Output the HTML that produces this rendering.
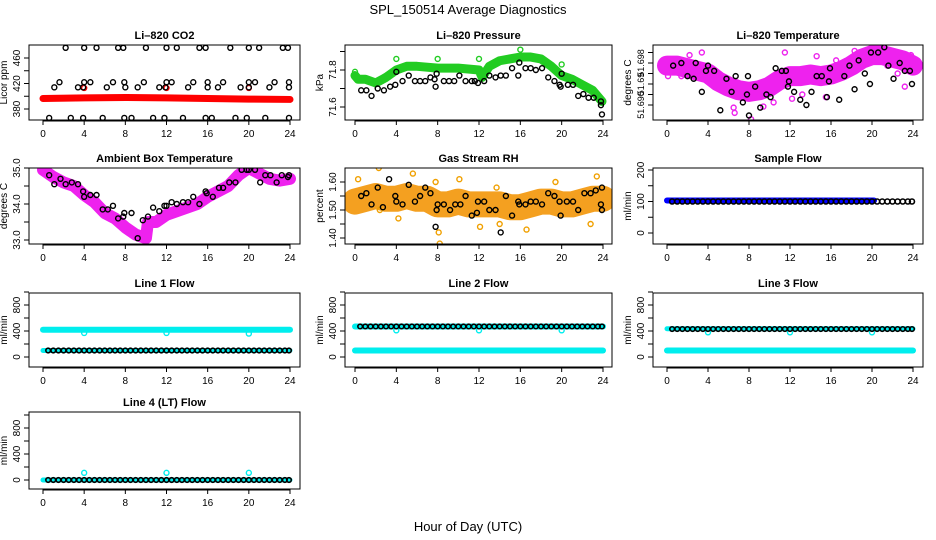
<!DOCTYPE html>
<html><head><meta charset="utf-8"><style>
body{margin:0;background:#fff;}
svg{display:block;font-family:"Liberation Sans",sans-serif;}
</style></head><body>
<svg id="c" width="936" height="540" viewBox="0 0 936 540">
<text x="468" y="14" text-anchor="middle" font-size="13">SPL_150514  Average Diagnostics</text>
<text x="468" y="531" text-anchor="middle" font-size="13">Hour of Day (UTC)</text>
</svg>
<script>
// ---------- data ----------
const xTicks = [0,4,8,12,16,20,24];
// CO2
const co2BandT = [0,4,8,12,16,20,24];
const co2BandV = [396.5,397.5,398,397.5,396.5,395.5,395];
const co2HiT = [2.2,4,5.2,7.3,7.8,10,12,13,15.2,15.8,18.2,20,21,23.3,23.8];
const co2MidT = [1.1,3.4,3.9,6.2,8,9.2,11.3,11.9,14.1,16,17,19.2,20,22,23.9];
const co2Mid2T = [1.6,4,4.6,6.8,7.9,9.8,12,12.5,14.6,16,17.5,20,20.6,22.5,23.9];
const co2LoT = [0.6,2.7,3.9,5.8,7.9,8.6,10.7,11.8,13.6,15.8,16.4,18.7,19.8,21.6,23.9];
const co2HiV = 476, co2MidV = 414, co2Mid2V = 422, co2LoV = 366;
const co2RedOutT = [4,12,20];
const co2RedOutV = [413,413,413];
// Pressure
const presBandT = [0,0.3,1,2,3,4,5,6,8,10,12,12.3,13,14,16,17,18,19,20,21,22,23,23.9];
const presBandV = [71.77,71.75,71.75,71.73,71.76,71.80,71.82,71.82,71.81,71.81,71.80,71.76,71.82,71.85,71.87,71.87,71.86,71.82,71.77,71.75,71.72,71.69,71.63];
const presBlackT = [0.6,1.1,1.6,2.2,2.8,3.4,3.9,4,4.6,5.2,5.8,6.3,6.8,7.3,7.7,7.8,7.9,8.6,9.1,9.6,10.1,10.7,11.3,11.6,11.9,12.5,13,13.6,14.1,14.6,15.2,15.8,15.9,16.5,17,17.5,18.1,18.7,19.3,19.8,19.9,20,20.6,21.1,21.6,22.1,22.6,23.1,23.8,23.8,23.9];
const presBlackV = [71.69,71.69,71.66,71.70,71.69,71.71,71.72,71.79,71.74,71.77,71.74,71.74,71.74,71.76,71.75,71.71,71.78,71.74,71.74,71.74,71.77,71.74,71.74,71.74,71.73,71.74,71.77,71.76,71.77,71.77,71.81,71.77,71.84,71.81,71.81,71.80,71.81,71.76,71.74,71.72,71.71,71.78,71.72,71.72,71.66,71.67,71.65,71.65,71.63,71.61,71.56];
const presOutT = [0,4,8,12,16,20];
const presOutV = [71.79,71.86,71.86,71.86,71.91,71.83];
// Li-820 temperature
const tempBandT = [0,1,2,3,4,5,6,7,8,9,10,11,12,13,14,15,16,17,18,19,20,21,22,23,24];
const tempBandV = [51.6975,51.6975,51.697,51.6965,51.696,51.6945,51.6935,51.6928,51.6925,51.6928,51.6935,51.6948,51.6955,51.6955,51.6958,51.6955,51.6958,51.6965,51.6975,51.6988,51.6995,51.6995,51.699,51.6985,51.6975];
const tempBlackT = [0.6,1.4,2,2.6,2.8,3.4,3.8,4,4.6,5.2,5.8,6.3,6.7,7.4,7.8,7.9,8,8.6,9.1,9.7,10.1,10.6,11.2,11.6,11.8,11.9,12.4,13,13.6,14.1,14.6,15.1,15.6,15.8,15.9,16.8,17.3,17.8,18.3,18.7,19.3,19.8,19.9,20.6,21.2,21.6,22.1,22.7,23.2,23.7,23.9];
const tempBlackV = [51.6975,51.698,51.6955,51.695,51.698,51.6925,51.6965,51.6975,51.6965,51.689,51.695,51.6925,51.6955,51.6905,51.692,51.6955,51.688,51.6935,51.6895,51.692,51.6915,51.697,51.6965,51.6965,51.6935,51.6945,51.6925,51.691,51.690,51.6925,51.6955,51.6955,51.6915,51.6945,51.697,51.691,51.6955,51.6975,51.693,51.6985,51.696,51.694,51.700,51.700,51.701,51.6975,51.695,51.698,51.6965,51.6965,51.694];
const tempMagOutT = [0.1,1.4,2.2,3.4,4.6,6.6,6.5,8.2,9.4,10.4,11.5,12.2,13.2,14.6,15.5,16.5,18.3,19.6,20.2,21.5,22.5,23.2,23.8];
const tempMagOutV = [51.6955,51.6955,51.6995,51.7,51.6935,51.6885,51.6895,51.6873,51.6897,51.6905,51.7,51.6912,51.692,51.6993,51.6915,51.6985,51.7003,51.6990,51.6985,51.6975,51.6960,51.6935,51.6995];
// Ambient box temperature
const ambBandT = [0,1,2,3,4,5,6,7,8,9,10,10.2,11,12,13,14,15,16,17,18,19,20,21,22,23,24];
const ambBandV = [34.95,34.75,34.6,34.5,34.25,34.05,33.75,33.6,33.35,33.15,33.05,33.5,33.5,33.7,33.8,33.9,34.0,34.2,34.35,34.5,34.8,35.0,34.85,34.7,34.65,34.7];
const ambBlackT = [0.6,1.1,1.7,2.2,2.8,3.4,3.9,4,4.6,5.2,5.8,6.3,6.8,7.3,7.8,7.9,8.6,9.2,9.7,10.2,10.7,11.3,11.8,12,12.5,13,13.6,14.1,14.6,15.2,15.8,15.9,16.5,17.1,17.5,18.1,18.7,19.3,19.8,20,20.6,21.1,21.6,22.1,22.7,23.2,23.8,23.9];
const ambBlackV = [34.8,34.55,34.7,34.55,34.6,34.55,34.35,34.2,34.25,34.25,33.85,33.85,33.95,33.6,33.65,33.75,33.75,33.05,33.55,33.65,33.9,33.8,33.95,33.95,34.05,34.0,34.05,34.05,34.2,34.0,34.35,34.3,34.2,34.45,34.45,34.6,34.6,34.95,34.95,34.95,34.95,34.6,34.8,34.8,34.6,34.8,34.75,34.8];
// Gas stream RH
const rhBandT = [0,1,2,3,4,5,6,7,8,9,10,11,12,13,14,15,16,17,18,19,20,21,22,23,24];
const rhBandV = [1.53,1.54,1.55,1.54,1.54,1.55,1.54,1.54,1.52,1.52,1.53,1.52,1.52,1.52,1.52,1.51,1.51,1.52,1.53,1.53,1.52,1.52,1.53,1.54,1.54];
const rhBlackT = [0.6,1.1,1.6,2.2,2.7,3.3,3.9,4,4.6,5.2,5.8,6.3,6.8,7.3,7.8,7.9,8,8.6,9.2,9.7,10.2,10.7,11.3,11.8,11.9,12.5,13,13.6,14.1,14.6,15.2,15.8,15.9,16.5,17,17.5,18.1,18.7,19.3,19.8,19.9,20.5,21.1,21.6,22.2,22.8,23.3,23.8,23.9,23.9];
const rhBlackV = [1.55,1.56,1.52,1.58,1.51,1.61,1.55,1.53,1.52,1.59,1.53,1.55,1.58,1.56,1.44,1.50,1.52,1.52,1.50,1.52,1.52,1.55,1.48,1.49,1.53,1.53,1.50,1.50,1.42,1.55,1.48,1.53,1.52,1.52,1.53,1.53,1.52,1.56,1.55,1.53,1.48,1.53,1.53,1.50,1.56,1.56,1.57,1.52,1.50,1.58];
const rhOutT = [0.3,2.3,5.6,7.8,8.1,8.2,10.1,12.1,13.7,16.6,22.8,23.4,2.4,4.2,14.0,19.4];
const rhOutV = [1.61,1.65,1.63,1.60,1.42,1.38,1.61,1.44,1.58,1.43,1.45,1.62,1.50,1.47,1.45,1.60];
// Flows
const flowT = [0.5,1,1.5,2,2.5,3,3.5,4,4.5,5,5.5,6,6.5,7,7.5,8,8.5,9,9.5,10,10.5,11,11.5,12,12.5,13,13.5,14,14.5,15,15.5,16,16.5,17,17.5,18,18.5,19,19.5,20,20.5,21,21.5,22,22.5,23,23.5,23.9];
const sampleBlue = {t:[0,20.2], v:[103,103]};
const sampleBlack = 100;
const line1Cyan = 420, line1Low = 100;
const line2Cyan = 470, line2Black = 470, line2Low = 100;
const line3Cyan = 435, line3Black = 430, line3Low = 100;
const line4Cyan = 0, line4Black = 0;
const cyanOutT = [4,12,20];
const line1OutV = [370,370,360];
const line2OutV = [410,410,410];
const line3OutV = [380,380,380];
const line4OutV = [110,110,110];

// ---------- drawing ----------
const svg = document.getElementById('c');
const NS = 'http://www.w3.org/2000/svg';
function mk(tag, attrs, parent){const e=document.createElementNS(NS,tag);for(const k in attrs)e.setAttribute(k,attrs[k]);(parent||svg).appendChild(e);return e;}
const cols = [{x0:29,x1:300,a:43,b:290},{x0:345,x1:612,a:355,b:603},{x0:653,x1:923,a:667,b:913}];
const rows = [{y0:45,y1:120},{y0:168,y1:244},{y0:293,y1:367},{y0:412,y1:489}];

function panel(name, title, ylab, c, r, yRef, ticks, labels, lfs){
  const C=cols[c], R=rows[r];
  const g = mk('g',{});
  
  
  const sx = t => C.a + (C.b-C.a)*t/24;
  const sy = v => yRef[1] + (v-yRef[0])*(yRef[3]-yRef[1])/(yRef[2]-yRef[0]);
  const t = mk('text',{x:(C.x0+C.x1)/2,y:R.y0-6,'text-anchor':'middle','font-size':11,'font-weight':'bold'},g);
  t.textContent = title;
  
  
  const plot = mk('g',{},g);
  const clip = mk('clipPath',{id:'cl'+name},g);
  mk('rect',{x:C.x0,y:R.y0,width:C.x1-C.x0,height:R.y1-R.y0},clip);
  plot.setAttribute('clip-path','url(#cl'+name+')');
  const box = mk('rect',{x:C.x0,y:R.y0,width:C.x1-C.x0,height:R.y1-R.y0,fill:'none',stroke:'#000','stroke-width':1},g);
  
  
  const xa = mk('g',{},g);
  
  
  mk('line',{x1:sx(0),x2:sx(24),y1:R.y1+1,y2:R.y1+1,stroke:'#000'},xa);
  xTicks.forEach(v=>{
    mk('line',{x1:sx(v),x2:sx(v),y1:R.y1,y2:R.y1+5,stroke:'#000'},xa);
    const tx = mk('text',{x:sx(v),y:R.y1+17,'text-anchor':'middle','font-size':10},xa);
    tx.textContent = v;
  });
  const ya = mk('g',{},g);
  
  
  ticks.forEach((v,i)=>{
    const y = sy(v);
    mk('line',{x1:C.x0-5,x2:C.x0,y1:y,y2:y,stroke:'#000'},ya);
    if(labels[i]!==''){
      const tx = mk('text',{x:C.x0-9,y:y,'text-anchor':'middle','font-size':lfs||10,transform:`rotate(-90 ${C.x0-9} ${y})`},ya);
      tx.textContent = labels[i];
    }
  });
  const yl = mk('text',{x:C.x0-22,y:(R.y0+R.y1)/2,'text-anchor':'middle','font-size':10,transform:`rotate(-90 ${C.x0-22} ${(R.y0+R.y1)/2})`},g);
  yl.textContent = ylab;
  
  
  return {plot,sx,sy};
}
function band(P, T, V, color, w, name){
  const pl = mk('polyline',{points:T.map((t,i)=>P.sx(t)+','+P.sy(V[i])).join(' '),fill:'none',stroke:color,'stroke-width':w,'stroke-linejoin':'round','stroke-linecap':'round'},P.plot);
  
  
}
function pts(P, T, V, color, name, r, sw){
  const g = mk('g',{},P.plot);
  
  
  T.forEach((t,i)=>{
    const v = Array.isArray(V)?V[i]:V;
    mk('circle',{cx:P.sx(t),cy:P.sy(v),r:r||2.5,fill:'none',stroke:color,'stroke-width':sw||1.4},g);
  });
}

// P1
let P = panel('co2-panel','Li\u2013820 CO2','Licor ppm',0,0,[380,109,460,58],[380,400,420,440,460],['380','','420','','460']);
band(P,co2BandT,co2BandV,'#ff0000',7,'co2-red-band');
pts(P,co2RedOutT,co2RedOutV,'#ff0000','co2-red-outliers');
pts(P,co2HiT,co2HiV,'#000','co2-black-high');
pts(P,co2MidT,co2MidV,'#000','co2-black-mid');
pts(P,co2Mid2T,co2Mid2V,'#000','co2-black-mid2');
pts(P,co2LoT,co2LoV,'#000','co2-black-low');
// P2
P = panel('pressure-panel','Li\u2013820 Pressure','kPa',1,0,[71.8,70,71.6,107],[71.6,71.7,71.8,71.9],['71.6','','71.8','']);
band(P,presBandT,presBandV,'#22cc22',9,'pressure-green-band');
pts(P,presOutT,presOutV,'#22cc22','pressure-green-outliers');
pts(P,presBlackT,presBlackV,'#000','pressure-black-points');
// P3
P = panel('li820-temp-panel','Li\u2013820 Temperature','degrees C',2,0,[51.698,63,51.690,105],[51.690,51.692,51.694,51.696,51.698,51.700],['51.690','','51.69','','51.698',''],9);
band(P,tempBandT,tempBandV,'#ee22ee',20,'temp-magenta-band');
pts(P,tempMagOutT,tempMagOutV,'#ee22ee','temp-magenta-outliers');
pts(P,tempBlackT,tempBlackV,'#000','temp-black-points');
// P4
P = panel('ambient-temp-panel','Ambient Box Temperature','degrees C',0,1,[35,168,33,240],[33,33.5,34,34.5,35],['33.0','','34.0','','35.0']);
band(P,ambBandT,ambBandV,'#ee22ee',12,'ambient-magenta-band');
pts(P,ambBlackT,ambBlackV,'#000','ambient-black-points');
// P5
P = panel('rh-panel','Gas Stream RH','percent',1,1,[1.6,182,1.4,238],[1.4,1.45,1.5,1.55,1.6],['1.40','','1.50','','1.60']);
band(P,rhBandT,rhBandV,'#f4a020',26,'rh-orange-band');
pts(P,rhOutT,rhOutV,'#f0a000','rh-orange-outliers');
pts(P,rhBlackT,rhBlackV,'#000','rh-black-points');
// P6
P = panel('sample-flow-panel','Sample Flow','ml/min',2,1,[0,233,200,170],[0,50,100,150,200],['0','','100','','200']);
band(P,sampleBlue.t,sampleBlue.v,'#0000ff',6,'sample-blue-band');
pts(P,flowT,flowT.map(()=>sampleBlack),'#000','sample-black-points',2.5,1.6);
const flowTicks=[0,200,400,600,800,1000], flowLabels=['0','','400','','800',''];
const fullT=[0,24];
// Line 1
P = panel('line1-panel','Line 1 Flow','ml/min',0,2,[0,357,400,331],flowTicks,flowLabels);
band(P,fullT,[line1Cyan,line1Cyan],'#00eeee',6,'line1-cyan-band');
band(P,fullT,[line1Low,line1Low],'#00eeee',5,'line1-cyan-low');
pts(P,cyanOutT,line1OutV,'#00eeee','line1-cyan-outliers');
pts(P,flowT,flowT.map(()=>line1Low),'#000','line1-black-points',2.3,1.6);
// Line 2
P = panel('line2-panel','Line 2 Flow','ml/min',1,2,[0,357,400,331],flowTicks,flowLabels);
band(P,fullT,[line2Cyan,line2Cyan],'#00eeee',6,'line2-cyan-band');
band(P,fullT,[line2Low,line2Low],'#00eeee',6,'line2-cyan-low');
pts(P,cyanOutT,line2OutV,'#00eeee','line2-cyan-outliers');
pts(P,flowT,flowT.map(()=>line2Black),'#000','line2-black-points',2.3,1.6);
// Line 3
P = panel('line3-panel','Line 3 Flow','ml/min',2,2,[0,357,400,331],flowTicks,flowLabels);
band(P,fullT,[line3Cyan,line3Cyan],'#00eeee',5,'line3-cyan-band');
band(P,fullT,[line3Low,line3Low],'#00eeee',6,'line3-cyan-low');
pts(P,cyanOutT,line3OutV,'#00eeee','line3-cyan-outliers');
pts(P,flowT,flowT.map(()=>line3Black),'#000','line3-black-points',2.3,1.6);
// Line 4
P = panel('line4-panel','Line 4 (LT) Flow','ml/min',0,3,[0,480,400,454],flowTicks,flowLabels);
band(P,fullT,[line4Cyan,line4Cyan],'#00eeee',5,'line4-cyan-band');
pts(P,cyanOutT,line4OutV,'#00eeee','line4-cyan-outliers');
pts(P,flowT,flowT.map(()=>line4Black),'#000','line4-black-points',2.3,1.6);
</script>
</body></html>
